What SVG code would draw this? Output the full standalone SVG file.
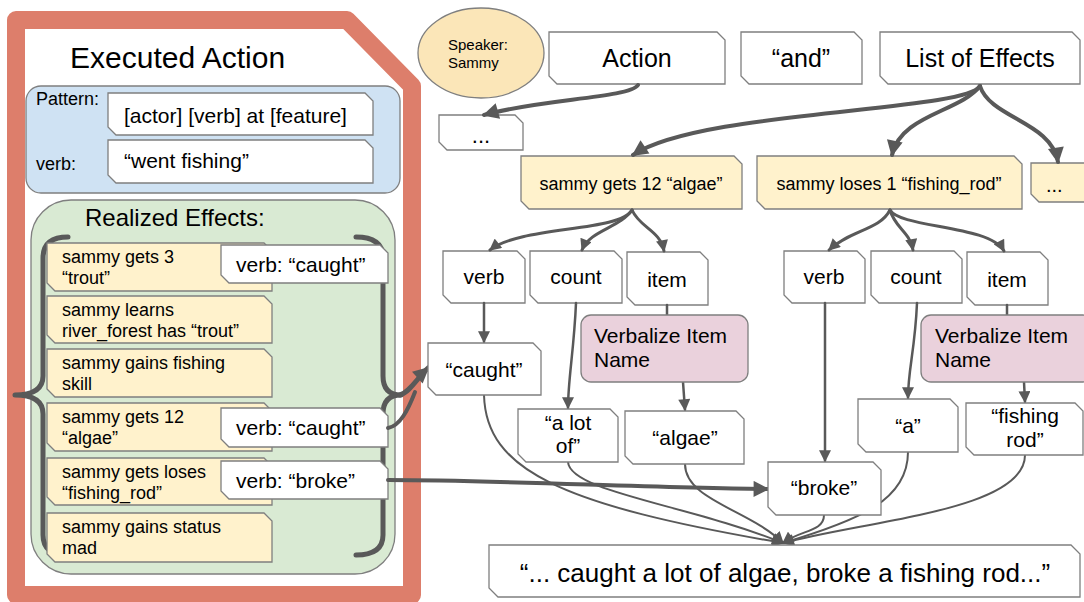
<svg xmlns="http://www.w3.org/2000/svg" width="1084" height="602" viewBox="0 0 1084 602">
  <style>
    text { font-family: "Liberation Sans", Arial, sans-serif; fill: #000; }
    .box { fill: #fff; stroke: #7f7f7f; stroke-width: 1.3; }
    .eff { fill: #fff2cc; stroke: #7f7f7f; stroke-width: 1.3; }
    .proc { fill: #ead1dc; stroke: #7f7f7f; stroke-width: 1.3; }
    .t21 { font-size: 21px; }
    .t18 { font-size: 18px; }
    .mid { text-anchor: middle; }
    .c { fill: none; stroke: #595959; stroke-linecap: round; }
    .brace { fill: none; stroke: #595959; stroke-width: 5; stroke-linecap: round; stroke-linejoin: round; }
  </style>
  <defs>
    <marker id="ah" viewBox="0 0 10 10" refX="9" refY="5" markerWidth="13" markerHeight="12" markerUnits="userSpaceOnUse" orient="auto">
      <path d="M0,0 L10,5 L0,10 z" fill="#595959"/>
    </marker>
    <marker id="ahL" viewBox="0 0 10 10" refX="9" refY="5" markerWidth="17" markerHeight="16" markerUnits="userSpaceOnUse" orient="auto">
      <path d="M0,0 L10,5 L0,10 z" fill="#595959"/>
    </marker>
  </defs>

  <!-- Executed Action panel -->
  <g id="executed-action">
    <path d="M16,20 H347 L412,86 V595 H16 Z" fill="#fff" stroke="#dd7e6b" stroke-width="18" stroke-linejoin="round"/>
    <text x="70" y="68" style="font-size:30px">Executed Action</text>
  </g>

  <g id="pattern-panel">
    <rect x="26" y="86" width="374" height="107" rx="15" fill="#cfe2f3" stroke="#7f7f7f" stroke-width="1.3"/>
    <text x="36" y="105" class="t18">Pattern:</text>
    <text x="36" y="170" class="t18">verb:</text>
    <polygon class="box" points="108,93 365,93 373,101 373,135 116,135 108,127"/>
    <text x="124" y="123" class="t21">[actor] [verb] at [feature]</text>
    <polygon class="box" points="108,140 365,140 373,148 373,183 116,183 108,175"/>
    <text x="124" y="168" class="t21">“went fishing”</text>
  </g>

  <g id="realized-effects">
    <rect x="31" y="200" width="364" height="374" rx="40" fill="#d9ead3" stroke="#7f7f7f" stroke-width="1.3"/>
    <text x="85" y="226" style="font-size:24px">Realized Effects:</text>
    <!-- braces around the effect list -->
    <path class="brace" d="M68,237 Q43,237 43,258 V376 Q43,395 15,395 Q43,395 43,414 V535 Q43,555 68,555"/>
    <path class="brace" d="M356,237 Q383,237 383,258 V376 Q383,395 401,395 Q383,395 383,414 V535 Q383,555 356,555"/>
  </g>

  <g id="effect-1">
    <polygon class="eff" points="47,243 264,243 272,251 272,291 55,291 47,283"/>
    <text x="62" y="263" class="t18">sammy gets 3</text>
    <text x="62" y="284" class="t18">“trout”</text>
  </g>
  <g id="effect-2">
    <polygon class="eff" points="47,296 264,296 272,304 272,343 55,343 47,335"/>
    <text x="62" y="316" class="t18">sammy learns</text>
    <text x="62" y="337" class="t18">river_forest has “trout”</text>
  </g>
  <g id="effect-3">
    <polygon class="eff" points="47,349 264,349 272,357 272,397 55,397 47,389"/>
    <text x="62" y="369" class="t18">sammy gains fishing</text>
    <text x="62" y="390" class="t18">skill</text>
  </g>
  <g id="effect-4">
    <polygon class="eff" points="47,403 264,403 272,411 272,451 55,451 47,443"/>
    <text x="62" y="423" class="t18">sammy gets 12</text>
    <text x="62" y="444" class="t18">“algae”</text>
  </g>
  <g id="effect-5">
    <polygon class="eff" points="47,458 264,458 272,466 272,505 55,505 47,497"/>
    <text x="62" y="478" class="t18">sammy gets loses</text>
    <text x="62" y="499" class="t18">“fishing_rod”</text>
  </g>
  <g id="effect-6">
    <polygon class="eff" points="47,513 264,513 272,521 272,562 55,562 47,554"/>
    <text x="62" y="533" class="t18">sammy gains status</text>
    <text x="62" y="554" class="t18">mad</text>
  </g>

  <g id="verb-caught-1">
    <polygon class="box" points="221,245 380,245 388,253 388,283 229,283 221,275"/>
    <text x="236" y="272" class="t21">verb: “caught”</text>
  </g>
  <g id="verb-caught-2">
    <polygon class="box" points="221,408 380,408 388,416 388,447 229,447 221,439"/>
    <text x="236" y="435" class="t21">verb: “caught”</text>
  </g>
  <g id="verb-broke">
    <polygon class="box" points="221,461 380,461 388,469 388,499 229,499 221,491"/>
    <text x="236" y="488" class="t21">verb: “broke”</text>
  </g>

  <!-- Template / realization tree -->
  <g id="speaker">
    <ellipse cx="481" cy="53" rx="63" ry="45" fill="#fbe6b8" stroke="#7f7f7f" stroke-width="1.3"/>
    <text x="448" y="50" style="font-size:15px">Speaker:</text>
    <text x="448" y="68" style="font-size:15px">Sammy</text>
  </g>
  <g id="action">
    <polygon class="box" points="549,32 717,32 725,40 725,84 557,84 549,76"/>
    <text x="637" y="67" class="mid" style="font-size:25px">Action</text>
  </g>
  <g id="and">
    <polygon class="box" points="741,32 854,32 862,40 862,84 749,84 741,76"/>
    <text x="801" y="67" class="mid" style="font-size:25px">“and”</text>
  </g>
  <g id="list-of-effects">
    <polygon class="box" points="880,32 1072,32 1080,40 1080,84 888,84 880,76"/>
    <text x="980" y="67" class="mid" style="font-size:25px">List of Effects</text>
  </g>
  <g id="action-more">
    <polygon class="box" points="439,115 515,115 523,123 523,150 447,150 439,142"/>
    <text x="481" y="143" class="mid" style="font-size:22px">...</text>
  </g>
  <g id="effect-algae">
    <polygon class="eff" points="521,156 734,156 742,164 742,209 529,209 521,201"/>
    <text x="631" y="190" class="mid t18">sammy gets 12 “algae”</text>
  </g>
  <g id="effect-rod">
    <polygon class="eff" points="757,156 1014,156 1022,164 1022,209 765,209 757,201"/>
    <text x="889" y="190" class="mid t18">sammy loses 1 “fishing_rod”</text>
  </g>
  <g id="effect-more">
    <polygon class="eff" points="1031,163 1086,163 1094,171 1094,202 1039,202 1031,194"/>
    <text x="1046" y="192" style="font-size:20px">...</text>
  </g>

  <g id="verb-a">
    <polygon class="box" points="443,251 517,251 525,259 525,303 451,303 443,295"/>
    <text x="484" y="284" class="mid t21">verb</text>
  </g>
  <g id="count-a">
    <polygon class="box" points="530,251 614,251 622,259 622,303 538,303 530,295"/>
    <text x="576" y="284" class="mid t21">count</text>
  </g>
  <g id="item-a">
    <polygon class="box" points="627,252 700,252 708,260 708,305 635,305 627,297"/>
    <text x="667" y="287" class="mid t21">item</text>
  </g>
  <g id="verb-b">
    <polygon class="box" points="784,251 857,251 865,259 865,303 792,303 784,295"/>
    <text x="824" y="284" class="mid t21">verb</text>
  </g>
  <g id="count-b">
    <polygon class="box" points="871,251 954,251 962,259 962,303 879,303 871,295"/>
    <text x="916" y="284" class="mid t21">count</text>
  </g>
  <g id="item-b">
    <polygon class="box" points="967,252 1040,252 1048,260 1048,305 975,305 967,297"/>
    <text x="1007" y="287" class="mid t21">item</text>
  </g>

  <g id="connectors">
    <!-- item into the verbalizer (line hidden under the box edge) -->
    <path class="c" stroke-width="2.5" d="M667,305 V316"/>
    <path class="c" stroke-width="2.5" d="M1007,305 V316"/>

    <!-- top level -->
    <path class="c" stroke-width="4" marker-end="url(#ahL)" d="M638,85 C630,98 540,99 484,115"/>
    <path class="c" stroke-width="4" marker-end="url(#ahL)" d="M980,86 C965,112 700,110 633,155"/>
    <path class="c" stroke-width="4" marker-end="url(#ahL)" d="M980,86 C960,112 900,115 892,155"/>
    <path class="c" stroke-width="4" marker-end="url(#ahL)" d="M980,86 C990,118 1052,122 1058,162"/>

    <!-- effect to slots -->
    <path class="c" stroke-width="3" marker-end="url(#ah)" d="M632,210 C620,232 520,226 490,250"/>
    <path class="c" stroke-width="3" marker-end="url(#ah)" d="M632,210 C620,228 590,230 582,250"/>
    <path class="c" stroke-width="3" marker-end="url(#ah)" d="M632,210 C640,228 660,230 664,251"/>
    <path class="c" stroke-width="3" marker-end="url(#ah)" d="M890,210 C880,230 850,230 829,250"/>
    <path class="c" stroke-width="3" marker-end="url(#ah)" d="M890,210 C895,228 910,232 913,250"/>
    <path class="c" stroke-width="3" marker-end="url(#ah)" d="M890,210 C900,228 990,225 1004,251"/>

    <!-- slots to words -->
    <path class="c" stroke-width="2.5" marker-end="url(#ah)" d="M484,303 V342"/>
    <path class="c" stroke-width="2.5" marker-end="url(#ah)" d="M576,303 C574,350 568,380 568,408"/>
    <path class="c" stroke-width="2.5" marker-end="url(#ah)" d="M683,382 L685,410"/>
    <path class="c" stroke-width="2.5" marker-end="url(#ah)" d="M825,303 V461"/>
    <path class="c" stroke-width="2.5" marker-end="url(#ah)" d="M917,303 C915,350 908,370 908,398"/>
    <path class="c" stroke-width="2.5" marker-end="url(#ah)" d="M1024,382 L1025,402"/>

    <!-- words into the sentence -->
    <path class="c" stroke-width="2" marker-end="url(#ah)" d="M484,395 C486,470 560,505 783,543"/>
    <path class="c" stroke-width="2" marker-end="url(#ah)" d="M568,462 C570,492 690,505 783,543"/>
    <path class="c" stroke-width="2" marker-end="url(#ah)" d="M685,464 C685,500 750,510 783,543"/>
    <path class="c" stroke-width="2" marker-end="url(#ah)" d="M824,515 C824,532 800,530 783,543"/>
    <path class="c" stroke-width="2" marker-end="url(#ah)" d="M908,452 C908,500 860,520 783,543"/>
    <path class="c" stroke-width="2" marker-end="url(#ah)" d="M1025,455 C1025,510 870,520 783,543"/>

    <!-- realized verbs out of the panel -->
    <path class="c" stroke-width="4" d="M388,428 C400,426 408,410 415,392"/>
    <path class="c" stroke-width="5" marker-end="url(#ahL)" d="M400,395 C410,392 418,377 428,368"/>
    <path class="c" stroke-width="4" marker-end="url(#ahL)" d="M388,480 C500,480 650,488 768,489"/>
  </g>

  <g id="verbalize-a">
    <rect class="proc" x="581" y="315" width="167" height="67" rx="10"/>
    <text x="594" y="343" class="t21">Verbalize Item</text>
    <text x="594" y="367" class="t21">Name</text>
  </g>
  <g id="verbalize-b">
    <rect class="proc" x="921" y="315" width="172" height="67" rx="10"/>
    <text x="935" y="343" class="t21">Verbalize Item</text>
    <text x="935" y="367" class="t21">Name</text>
  </g>
  <g id="word-caught">
    <polygon class="box" points="428,343 533,343 541,351 541,395 436,395 428,387"/>
    <text x="484" y="377" class="mid t21">“caught”</text>
  </g>
  <g id="word-a-lot-of">
    <polygon class="box" points="518,409 610,409 618,417 618,462 526,462 518,454"/>
    <text x="568" y="430" class="mid t21">“a lot</text>
    <text x="568" y="453" class="mid t21">of”</text>
  </g>
  <g id="word-algae">
    <polygon class="box" points="625,411 736,411 744,419 744,464 633,464 625,456"/>
    <text x="685" y="445" class="mid t21">“algae”</text>
  </g>
  <g id="word-broke">
    <polygon class="box" points="768,462 873,462 881,470 881,515 776,515 768,507"/>
    <text x="824" y="495" class="mid t21">“broke”</text>
  </g>
  <g id="word-a">
    <polygon class="box" points="858,399 950,399 958,407 958,452 866,452 858,444"/>
    <text x="908" y="433" class="mid t21">“a”</text>
  </g>
  <g id="word-fishing-rod">
    <polygon class="box" points="966,403 1075,403 1083,411 1083,455 974,455 966,447"/>
    <text x="1025" y="423" class="mid t21">“fishing</text>
    <text x="1025" y="447" class="mid t21">rod”</text>
  </g>
  <g id="sentence">
    <polygon class="box" points="489,545 1071,545 1080,554 1080,597 498,597 489,588"/>
    <text x="785" y="582" class="mid" style="font-size:26px">“... caught a lot of algae, broke a fishing rod...”</text>
  </g>
</svg>
